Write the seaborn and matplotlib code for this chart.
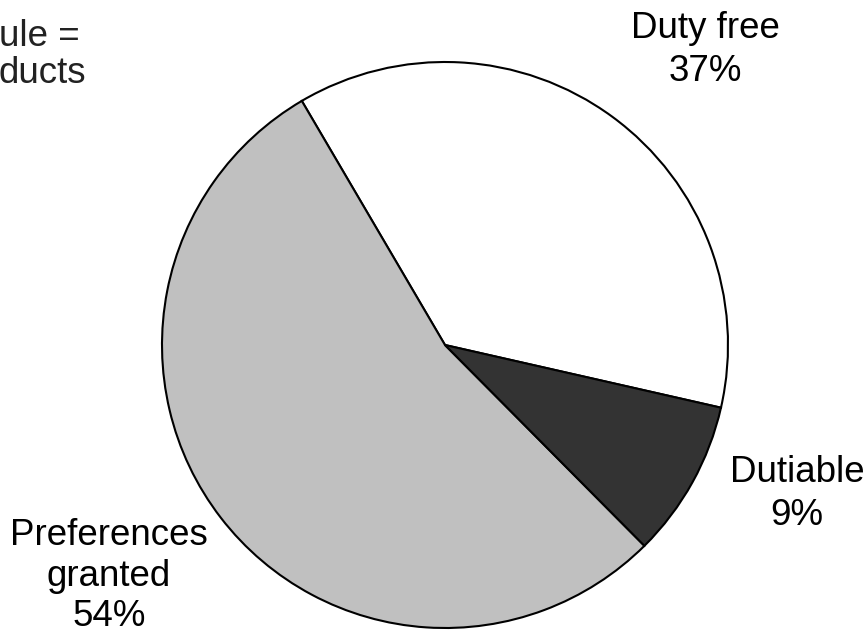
import matplotlib
matplotlib.use("Agg")
import matplotlib.pyplot as plt
import seaborn as sns

# data
categories = ["Duty free", "Preferences\ngranted", "Dutiable"]
shares = [37, 54, 9]
colors = ["#ffffff", "#c0c0c0", "#333333"]

sns.set_theme(style="white")
plt.rcParams['font.family'] = ['Liberation Sans', 'DejaVu Sans']

fig = plt.figure(figsize=(8.67, 6.39), dpi=100)
cx, cy, r = 445, 345, 283
ax = fig.add_axes([(cx - r) / 867, (639 - cy - r) / 639, 2 * r / 867, 2 * r / 639])

ax.pie(shares, colors=colors, startangle=-12.8, counterclock=True, radius=1,
       wedgeprops=dict(edgecolor="black", linewidth=1.5))
ax.set_xlim(-1, 1)
ax.set_ylim(-1, 1)
ax.set_aspect("equal")
ax.axis("off")

def px(x, y):
    return (x - cx) / r, (cy - y) / r

# label centres in pixels, and line spacing
label_pos = [(705, 50, 1.33), (109, 576, 1.19), (797, 494, 1.33)]
for cat, val, (x, y, ls) in zip(categories, shares, label_pos):
    lx, ly = px(x, y)
    ax.text(lx, ly, f"{cat}\n{val}%", ha="center", va="center",
            fontsize=26.5, linespacing=ls, color="black", clip_on=False)

tx, ty = px(-1, 55)
ax.text(tx, ty, "ule =\nducts", ha="left", va="center", fontsize=26.5,
        linespacing=1.1, color="#222222", clip_on=False)

fig.savefig("out.png", dpi=100)
